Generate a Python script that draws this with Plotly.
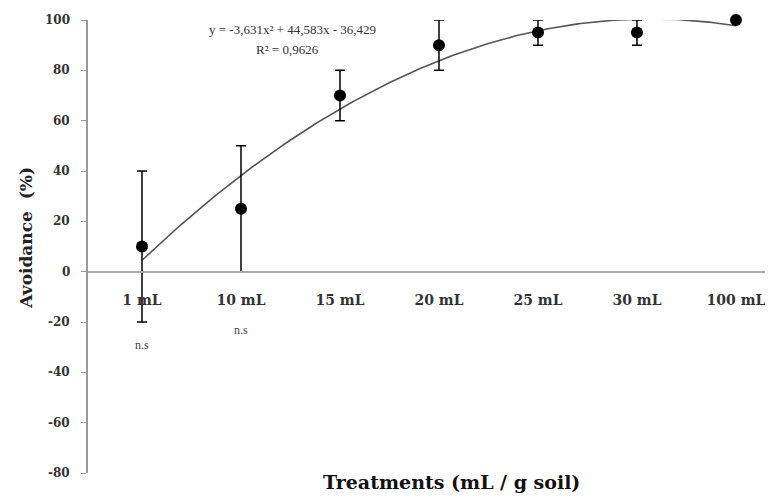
import numpy as np
import plotly.graph_objects as go

categories = ["1 mL", "10 mL", "15 mL", "20 mL", "25 mL", "30 mL", "100 mL"]
avoidance = [10, 25, 70, 90, 95, 95, 100]
error = [30, 25, 10, 10, 5, 5, 0]
y_ticks = [-80, -60, -40, -20, 0, 20, 40, 60, 80, 100]
ns_labels = [("1 mL", -29), ("10 mL", -23)]
equation_text = "y = -3,631x² + 44,583x - 36,429"
r2_text = "R² = 0,9626"

idx = np.arange(len(categories))
coef = np.polyfit(idx + 1, avoidance, 2)
xs = np.linspace(0, len(categories) - 1, 200)
trend = np.polyval(coef, xs + 1)

SERIF = "Liberation Serif"
BSERIF = "DejaVu Serif"

fig = go.Figure()
fig.add_trace(go.Scatter(x=xs, y=trend, mode="lines",
                         line=dict(color="#555555", width=1.6),
                         hoverinfo="skip", cliponaxis=False))
fig.add_trace(go.Scatter(
    x=idx, y=avoidance, mode="markers",
    marker=dict(color="black", size=12),
    error_y=dict(type="data", array=error, visible=True, color="black",
                 thickness=1.5, width=5),
    cliponaxis=False))

annotations = []
for v in y_ticks:
    annotations.append(dict(x=-0.0234, y=v, xref="paper", yref="y",
                            text=f"<b>{v}</b>", showarrow=False, xanchor="right",
                            font=dict(family=BSERIF, size=12, color="#333")))
for cat, yv in ns_labels:
    annotations.append(dict(x=categories.index(cat), y=yv, xref="x", yref="y",
                            text="n.s", showarrow=False,
                            font=dict(family=SERIF, size=12, color="#444")))
annotations.append(dict(x=1.52, y=96.1, xref="x", yref="y", text=equation_text,
                        showarrow=False, font=dict(family=SERIF, size=13, color="#333")))
annotations.append(dict(x=1.47, y=88.2, xref="x", yref="y", text=r2_text,
                        showarrow=False, font=dict(family=SERIF, size=13, color="#333")))
annotations.append(dict(x=-0.108, y=13.5, xref="paper", yref="y",
                        text="<b>Avoidance  (%)</b>",
                        textangle=-90, showarrow=False,
                        font=dict(family=BSERIF, size=17, color="#222")))
annotations.append(dict(x=0.53, y=-0.02, xref="paper", yref="paper",
                        text="<b>Treatments (mL / g soil)</b>", showarrow=False,
                        yanchor="middle",
                        font=dict(family=BSERIF, size=19, color="#111")))

fig.update_layout(
    width=773, height=496,
    margin=dict(l=80, r=8, t=12, b=31),
    plot_bgcolor="white", paper_bgcolor="white",
    showlegend=False,
    annotations=annotations,
    xaxis=dict(range=[-0.5455, 6.374], tickmode="array", tickvals=idx.tolist(),
               ticktext=[f"<b>{c}</b>" for c in categories],
               anchor="free", position=80 / 180,
               showline=True, linecolor="#aaaaaa", linewidth=2,
               showgrid=False, zeroline=False, ticks="",
               ticklabelstandoff=16,
               tickfont=dict(family=BSERIF, size=14, color="#333")),
    yaxis=dict(range=[-80, 100], tickvals=y_ticks, showticklabels=False,
               showline=True, linecolor="#999999", linewidth=1.5,
               ticks="outside", ticklen=5, tickcolor="#999999",
               showgrid=False, zeroline=False),
)

fig.write_html("out.html")
